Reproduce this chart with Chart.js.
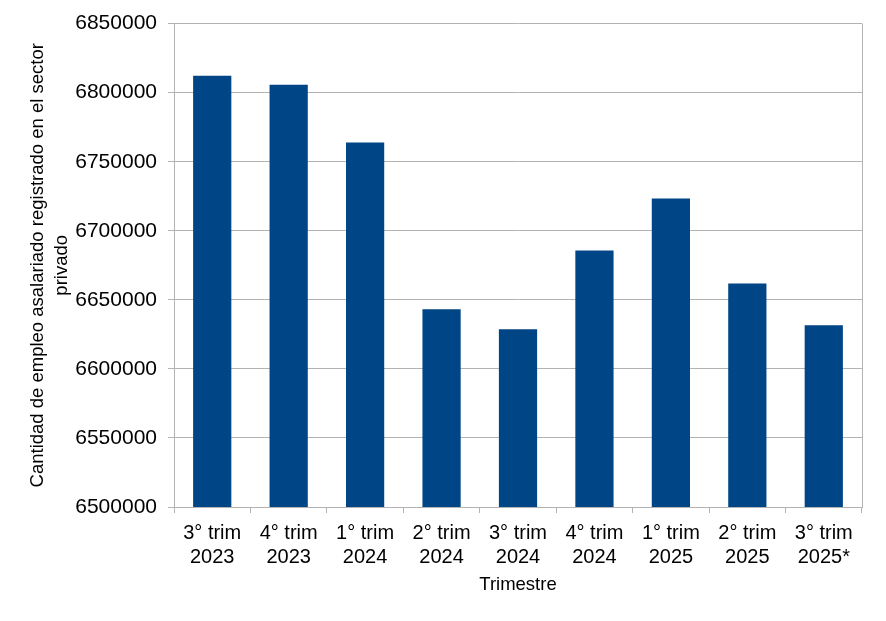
<!DOCTYPE html>
<html>
<head>
<meta charset="utf-8">
<script src="https://cdn.jsdelivr.net/npm/chart.js@4"></script>
<style>
  html, body { margin: 0; padding: 0; background: #fff; }
  #wrap { width: 886px; height: 621px; }
</style>
</head>
<body>
<div id="wrap"><canvas id="empleoChart" width="886" height="621"></canvas></div>
<script>
const trimestres = [
    ['3° trim', '2023'], ['4° trim', '2023'], ['1° trim', '2024'],
    ['2° trim', '2024'], ['3° trim', '2024'], ['4° trim', '2024'],
    ['1° trim', '2025'], ['2° trim', '2025'], ['3° trim', '2025*']
];
const empleo = [6812300, 6805800, 6763900, 6643100, 6628700, 6685800, 6723400, 6661900, 6631600];
const yMin = 6500000;
const yMax = 6850000;
const yStep = 50000;

const gridColor = '#b3b3b3';

// right edge of the plot frame
const frameRight = {
    id: 'frameRight',
    afterDraw(chart) {
        const { ctx, chartArea } = chart;
        ctx.save();
        ctx.strokeStyle = gridColor;
        ctx.lineWidth = 1;
        ctx.beginPath();
        ctx.moveTo(Math.round(chartArea.right) + 0.5, chartArea.top);
        ctx.lineTo(Math.round(chartArea.right) + 0.5, chartArea.bottom);
        ctx.stroke();
        ctx.restore();
    }
};

const ctx = document.getElementById('empleoChart').getContext('2d');
new Chart(ctx, {
    type: 'bar',
    data: {
        labels: trimestres,
        datasets: [{
            label: 'Empleo registrado',
            data: empleo,
            backgroundColor: '#004586',
            barPercentage: 0.5,
            categoryPercentage: 1.0
        }]
    },
    plugins: [frameRight],
    options: {
        responsive: false,
        animation: false,
        layout: { padding: { top: 22, right: 24, bottom: 0, left: 0 } },
        plugins: {
            legend: { display: false },
            tooltip: { enabled: false }
        },
        scales: {
            x: {
                afterFit: (scale) => { scale.height = 114; },
                grid: {
                    display: true,
                    offset: true,
                    drawOnChartArea: false,
                    drawTicks: true,
                    tickLength: 6,
                    color: gridColor
                },
                border: { color: gridColor },
                ticks: {
                    color: '#000',
                    padding: 8,
                    maxRotation: 0,
                    autoSkip: false,
                    font: { family: 'Liberation Sans', size: 20, lineHeight: 1.2 }
                },
                title: {
                    display: true,
                    text: 'Trimestre',
                    color: '#000',
                    padding: { top: 0, bottom: 25 },
                    font: { family: 'Liberation Sans', size: 18.5, lineHeight: 1.2 }
                }
            },
            y: {
                min: yMin,
                max: yMax,
                afterFit: (scale) => { scale.width = 174; },
                grid: {
                    color: gridColor,
                    drawTicks: true,
                    tickLength: 6
                },
                border: { color: gridColor },
                ticks: {
                    stepSize: yStep,
                    color: '#000',
                    padding: 11,
                    font: { family: 'Liberation Sans', size: 21 },
                    callback: (v) => String(v)
                },
                title: {
                    display: true,
                    text: ['Cantidad de empleo asalariado registrado en el sector', 'privado'],
                    color: '#000',
                    padding: { top: 26, bottom: 0 },
                    font: { family: 'Liberation Sans', size: 18.5, lineHeight: 1.3 }
                }
            }
        }
    }
});
</script>
</body>
</html>
